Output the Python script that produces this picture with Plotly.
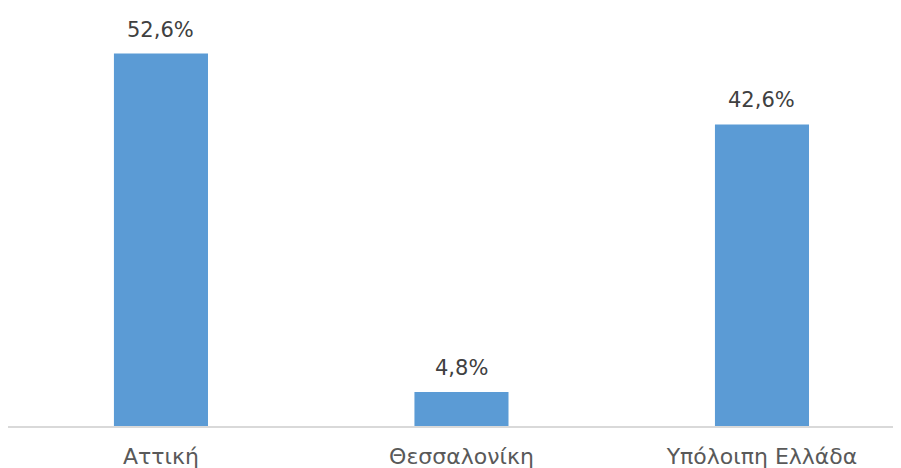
import plotly.graph_objects as go

categories = ["Αττική", "Θεσσαλονίκη", "Υπόλοιπη Ελλάδα"]
values = [52.6, 4.8, 42.6]
labels = ["52,6%", "4,8%", "42,6%"]

bar_color = "#5B9BD5"
font_family = "DejaVu Sans, Noto Sans, sans-serif"

fig = go.Figure()
fig.add_trace(go.Bar(
    x=categories, y=values, marker=dict(color=bar_color, line=dict(width=0)),
    width=0.313, hoverinfo="skip",
))
for c, v, t in zip(categories, values, labels):
    fig.add_annotation(x=c, y=v, text=t, showarrow=False, yanchor="bottom",
                       yshift=10, font=dict(family=font_family, size=21, color="#404040"))

fig.update_layout(
    width=893, height=460,
    margin=dict(l=0, r=0, t=0, b=42),
    paper_bgcolor="white", plot_bgcolor="white",
    showlegend=False,
    xaxis=dict(range=[-0.509, 2.4626], showgrid=False, zeroline=False,
               showline=True, linecolor="#D9D9D9", linewidth=1.5, ticks="",
               ticklabelstandoff=10,
               tickfont=dict(family=font_family, size=22, color="#595959")),
    yaxis=dict(range=[0, 59.04], visible=False, showgrid=False, zeroline=False),
)
fig.write_html("out.html")
